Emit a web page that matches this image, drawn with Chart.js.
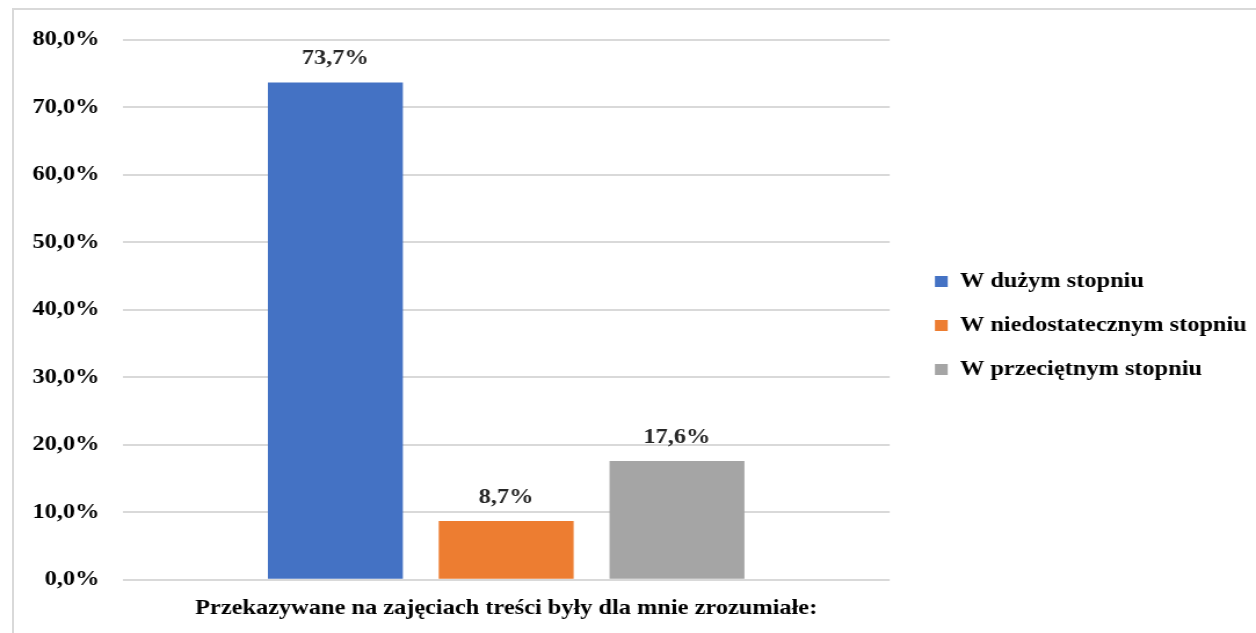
<!DOCTYPE html>
<html lang="pl">
<head>
<meta charset="utf-8">
<title>Przekazywane treści</title>
<script src="https://cdn.jsdelivr.net/npm/chart.js@4/dist/chart.umd.min.js"></script>
<style>
  html, body { margin: 0; padding: 0; background: #fff; }
  .wrap { position: relative; width: 1256px; height: 633px; overflow: hidden; }
  .frame { position: absolute; left: 12px; top: 8px; width: 1300px; height: 700px; border-top: 2px solid #d9d9d9; border-left: 2px solid #d9d9d9; box-sizing: border-box; }
  #chart { position: absolute; left: 0; top: 0; }
</style>
</head>
<body>
<div class="wrap">
  <div class="frame"></div>
  <!-- the reference text is a little wide, so the canvas is drawn narrower and stretched -->
  <canvas id="chart" width="1083" height="633" style="width:1256px;height:633px"></canvas>
</div>
<script>
// data
const categories = ['Przekazywane na zajęciach treści były dla mnie zrozumiałe:'];
const seriesNames = ['W dużym stopniu', 'W niedostatecznym stopniu', 'W przeciętnym stopniu'];
const seriesValues = [[73.7], [8.7], [17.6]];
const seriesColors = ['#4472c4', '#ed7d31', '#a5a5a5'];
const yTicks = [0, 10, 20, 30, 40, 50, 60, 70, 80];

const fontFamily = '"Liberation Serif", "Times New Roman", serif';
const fmt = v => v.toFixed(1).replace('.', ',') + '%';

// labels above each bar
const valueLabels = {
  id: 'valueLabels',
  afterDatasetsDraw(chart) {
    const ctx = chart.ctx;
    ctx.save();
    ctx.font = 'bold 21px ' + fontFamily;
    ctx.fillStyle = '#262626';
    ctx.textAlign = 'center';
    ctx.textBaseline = 'bottom';
    chart.data.datasets.forEach((ds, i) => {
      chart.getDatasetMeta(i).data.forEach((bar, j) => {
        ctx.fillText(fmt(ds.data[j]), bar.x, bar.y - 13);
      });
    });
    ctx.restore();
  }
};

// nudge the legend: a bit away from the plot and slightly up
const legendShift = {
  id: 'legendShift',
  afterLayout(chart) {
    const lg = chart.legend;
    if (lg) {
      lg.left += 16;
      lg.right += 16;
      lg.top -= 9;
      lg.bottom -= 9;
    }
  }
};

const ctx = document.getElementById('chart').getContext('2d');
new Chart(ctx, {
  type: 'bar',
  data: {
    labels: categories,
    datasets: seriesNames.map((name, i) => ({
      label: name,
      data: seriesValues[i],
      backgroundColor: seriesColors[i],
      categoryPercentage: 0.668,
      barPercentage: 0.79
    }))
  },
  options: {
    responsive: false,
    animation: false,
    layout: { padding: { top: 40, left: 8, right: 14, bottom: 4 } },
    scales: {
      x: {
        grid: { display: false },
        border: { display: false },
        ticks: { color: '#000', font: { family: fontFamily, size: 21, weight: 'bold' }, padding: 8 }
      },
      y: {
        min: 0,
        max: 80,
        afterBuildTicks: axis => { axis.ticks = yTicks.map(v => ({ value: v })); },
        grid: { color: '#d9d9d9', lineWidth: 2, drawTicks: false },
        border: { display: false },
        ticks: {
          color: '#000',
          padding: 20,
          font: { family: fontFamily, size: 21, weight: 'bold' },
          callback: v => fmt(v)
        }
      }
    },
    plugins: {
      tooltip: { enabled: false },
      legend: {
        position: 'right',
        maxWidth: 400,
        labels: {
          color: '#000',
          boxWidth: 11,
          boxHeight: 11,
          padding: 23,
          font: { family: fontFamily, size: 21, weight: 'bold' }
        }
      }
    }
  },
  plugins: [valueLabels, legendShift]
});
</script>
</body>
</html>
